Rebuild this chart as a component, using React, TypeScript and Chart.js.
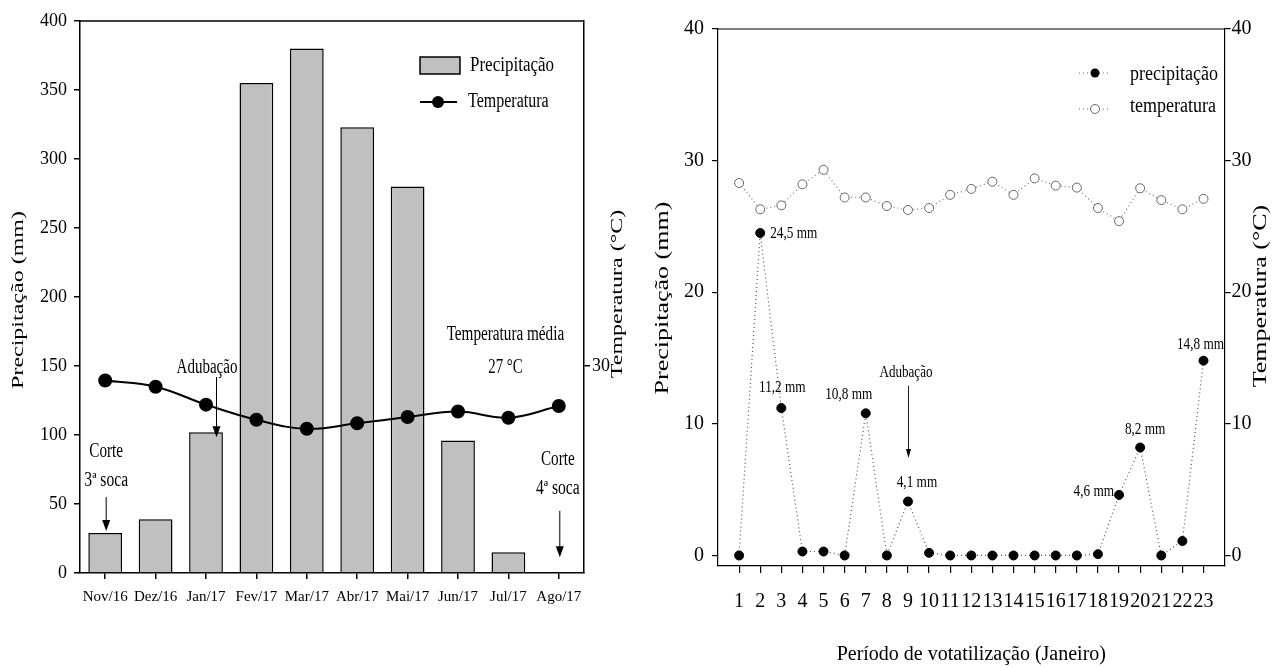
import React, { useEffect, useRef } from "react";
import { Chart, registerables } from "chart.js";

Chart.register(...registerables);

const FONT = "'Liberation Serif', 'Times New Roman', Times, serif";

// ---------- Left chart: monthly data ----------
const months = ["Nov/16", "Dez/16", "Jan/17", "Fev/17", "Mar/17", "Abr/17", "Mai/17", "Jun/17", "Jul/17", "Ago/17"];
const monthlyPrecipitation = [29, 39, 102, 355, 380, 323, 280, 96, 15, 0];
const monthlyTemperature = [27.9, 27.0, 24.4, 22.2, 20.9, 21.7, 22.6, 23.4, 22.5, 24.2];
const precipitationTicks = [0, 50, 100, 150, 200, 250, 300, 350, 400];
const monthlyTemperatureTicks = [30];

// ---------- Right chart: daily data (January) ----------
const days = [1, 2, 3, 4, 5, 6, 7, 8, 9, 10, 11, 12, 13, 14, 15, 16, 17, 18, 19, 20, 21, 22, 23];
const dailyPrecipitation = [0, 24.5, 11.2, 0.3, 0.3, 0, 10.8, 0, 4.1, 0.2, 0, 0, 0, 0, 0, 0, 0, 0.1, 4.6, 8.2, 0, 1.1, 14.8];
const dailyTemperature = [28.3, 26.3, 26.6, 28.2, 29.3, 27.2, 27.2, 26.55, 26.25, 26.4, 27.4, 27.85, 28.4, 27.4, 28.65, 28.1, 27.95, 26.4, 25.4, 27.9, 27.0, 26.3, 27.1];
const dailyAxisTicks = [0, 10, 20, 30, 40];
const rainfallLabelDays = [2, 3, 7, 9, 19, 20, 23];
const rainfallLabelTexts = ["24,5 mm", "11,2 mm", "10,8 mm", "4,1 mm", "4,6 mm", "8,2 mm", "14,8 mm"];
const fertilizationDay = 9;

// label placement (style only): [dx, dy, align]
const RAIN_LABEL_LAYOUT: [number, number, CanvasTextAlign][] = [
  [10, 1, "left"],
  [1, -21, "center"],
  [-17, -19, "center"],
  [9, -19, "center"],
  [-5, -3, "right"],
  [5, -18, "center"],
  [-3, -16, "center"],
];

function txt(ctx: CanvasRenderingContext2D, text: string, x: number, y: number, size: number, sx: number, align: CanvasTextAlign = "center") {
  ctx.save();
  ctx.font = `${size}px ${FONT}`;
  ctx.fillStyle = "#000";
  ctx.textAlign = align;
  ctx.textBaseline = "middle";
  ctx.translate(x, y);
  ctx.scale(sx, 1);
  ctx.fillText(text, 0, 0);
  ctx.restore();
}

function vtxt(ctx: CanvasRenderingContext2D, text: string, x: number, y: number, size: number, sy: number) {
  ctx.save();
  ctx.font = `${size}px ${FONT}`;
  ctx.fillStyle = "#000";
  ctx.textAlign = "center";
  ctx.textBaseline = "middle";
  ctx.translate(x, y);
  ctx.rotate(-Math.PI / 2);
  ctx.scale(1, sy);
  ctx.fillText(text, 0, 0);
  ctx.restore();
}

function arrow(ctx: CanvasRenderingContext2D, x: number, y1: number, y2: number, headW: number, headH: number, lw: number) {
  ctx.save();
  ctx.strokeStyle = "#000";
  ctx.fillStyle = "#000";
  ctx.lineWidth = lw;
  ctx.beginPath();
  ctx.moveTo(x, y1);
  ctx.lineTo(x, y2 - headH + 1);
  ctx.stroke();
  ctx.beginPath();
  ctx.moveTo(x - headW / 2, y2 - headH);
  ctx.lineTo(x + headW / 2, y2 - headH);
  ctx.lineTo(x, y2);
  ctx.closePath();
  ctx.fill();
  ctx.restore();
}

function topFrame(chart: any, lw: number) {
  const { ctx, chartArea } = chart;
  ctx.save();
  ctx.strokeStyle = "#000";
  ctx.lineWidth = lw;
  ctx.beginPath();
  ctx.moveTo(chartArea.left, chartArea.top);
  ctx.lineTo(chartArea.right, chartArea.top);
  ctx.stroke();
  ctx.restore();
}

const leftDecor = {
  id: "leftDecor",
  afterDraw(chart: any) {
    const { ctx, scales } = chart;
    const xs = scales.x;
    const ys = scales.y;
    topFrame(chart, 1.5);
    vtxt(ctx, "Precipitação (mm)", 18.5, 300, 24, 0.7);
    vtxt(ctx, "Temperatura (°C)", 617.5, 294, 24, 0.7);

    // legend
    ctx.save();
    ctx.fillStyle = "#c0c0c0";
    ctx.strokeStyle = "#000";
    ctx.lineWidth = 1.5;
    ctx.fillRect(420, 57, 40, 17);
    ctx.strokeRect(420, 57, 40, 17);
    ctx.lineWidth = 2;
    ctx.beginPath();
    ctx.moveTo(420, 102);
    ctx.lineTo(457, 102);
    ctx.stroke();
    ctx.fillStyle = "#000";
    ctx.beginPath();
    ctx.arc(438, 102, 6, 0, Math.PI * 2);
    ctx.fill();
    ctx.restore();
    txt(ctx, "Precipitação", 470, 66, 20, 0.85, "left");
    txt(ctx, "Temperatura", 468, 102, 20, 0.8, "left");

    // annotations
    const xNov = xs.getPixelForValue(0);
    txt(ctx, "Corte", xNov + 1, ys.getPixelForValue(88), 20, 0.76);
    txt(ctx, "3ª soca", xNov + 1, ys.getPixelForValue(66.5), 20, 0.78);
    arrow(ctx, xNov + 1, ys.getPixelForValue(55), ys.getPixelForValue(monthlyPrecipitation[0]) - 2, 8, 11, 1);

    const xJan = xs.getPixelForValue(2);
    txt(ctx, "Adubação", xJan + 1, ys.getPixelForValue(148.5), 20, 0.75);
    arrow(ctx, xJan + 10.5, ys.getPixelForValue(142), ys.getPixelForValue(monthlyPrecipitation[2]) + 5, 8, 11, 1);

    const xJul = xs.getPixelForValue(8);
    txt(ctx, "Temperatura média", xJul - 3, ys.getPixelForValue(173), 20, 0.76);
    txt(ctx, "27 °C", xJul - 3, ys.getPixelForValue(149), 20, 0.74);

    const xAgo = xs.getPixelForValue(9);
    txt(ctx, "Corte", xAgo - 1, ys.getPixelForValue(82), 20, 0.76);
    txt(ctx, "4ª soca", xAgo - 1, ys.getPixelForValue(61), 20, 0.78);
    arrow(ctx, xAgo + 1, ys.getPixelForValue(45), ys.getPixelForValue(11.5), 8, 11, 1);
  },
};

const rightDecor = {
  id: "rightDecor",
  afterDraw(chart: any) {
    const { ctx, scales } = chart;
    const xs = scales.x;
    const ys = scales.y;
    topFrame(chart, 1.2);
    vtxt(ctx, "Precipitação (mm)", 23, 298, 26, 0.7);
    vtxt(ctx, "Temperatura (°C)", 621.5, 296, 26, 0.7);

    // legend
    ctx.save();
    ctx.strokeStyle = "#666";
    ctx.lineWidth = 1.2;
    ctx.setLineDash([1, 3]);
    ctx.beginPath();
    ctx.moveTo(439, 73);
    ctx.lineTo(471, 73);
    ctx.moveTo(439, 109);
    ctx.lineTo(471, 109);
    ctx.stroke();
    ctx.setLineDash([]);
    ctx.fillStyle = "#000";
    ctx.beginPath();
    ctx.arc(455, 73, 4.5, 0, Math.PI * 2);
    ctx.fill();
    ctx.fillStyle = "#fff";
    ctx.strokeStyle = "#666";
    ctx.lineWidth = 1;
    ctx.beginPath();
    ctx.arc(455, 109, 4.5, 0, Math.PI * 2);
    ctx.fill();
    ctx.stroke();
    ctx.restore();
    txt(ctx, "precipitação", 490, 75, 20, 0.9, "left");
    txt(ctx, "temperatura", 490, 107, 20, 0.9, "left");

    // rainfall labels
    rainfallLabelDays.forEach((d, i) => {
      const [dx, dy, align] = RAIN_LABEL_LAYOUT[i];
      const px = xs.getPixelForValue(d);
      const py = ys.getPixelForValue(dailyPrecipitation[d - 1]);
      txt(ctx, rainfallLabelTexts[i], px + dx, py + dy, 17, 0.78, align);
    });

    // fertilization
    const xf = xs.getPixelForValue(fertilizationDay);
    txt(ctx, "Adubação", xf - 2, ys.getPixelForValue(13.9), 17, 0.77);
    arrow(ctx, xf + 0.5, ys.getPixelForValue(12.9), ys.getPixelForValue(7.4), 5, 9, 0.9);
  },
};

const axisGrid = (tickLength: number, lw: number) => ({
  display: true,
  drawOnChartArea: false,
  drawTicks: true,
  tickLength,
  color: "#000",
  lineWidth: lw,
});

export default function App() {
  const leftRef = useRef<HTMLCanvasElement | null>(null);
  const rightRef = useRef<HTMLCanvasElement | null>(null);

  useEffect(() => {
    Chart.defaults.color = "#000";
    Chart.defaults.font.family = FONT;

    const left = new Chart(leftRef.current as HTMLCanvasElement, {
      type: "bar",
      data: {
        labels: months,
        datasets: [
          {
            type: "line",
            label: "Temperatura",
            data: monthlyTemperature,
            yAxisID: "yT",
            borderColor: "#000",
            borderWidth: 2,
            pointRadius: 6,
            pointBackgroundColor: "#000",
            pointBorderColor: "#000",
            tension: 0.4,
            order: 0,
          } as any,
          {
            type: "bar",
            label: "Precipitação",
            data: monthlyPrecipitation,
            yAxisID: "y",
            backgroundColor: "#c0c0c0",
            borderColor: "#000",
            borderWidth: 1.5,
            barPercentage: 0.67,
            categoryPercentage: 1,
            order: 1,
          },
        ],
      },
      options: {
        responsive: false,
        animation: false,
        layout: { padding: { top: 21, left: 0, right: 0, bottom: 0 } },
        plugins: { legend: { display: false }, tooltip: { enabled: false } },
        scales: {
          x: {
            type: "category",
            offset: true,
            grid: { ...axisGrid(6, 1.5), offset: false },
            border: { display: true, color: "#000", width: 1.5 },
            ticks: { color: "#000", font: { family: FONT, size: 15 }, padding: 9, maxRotation: 0, autoSkip: false },
            afterFit: (s: any) => { s.height = 95; },
          },
          y: {
            position: "left",
            min: 0,
            max: 400,
            afterBuildTicks: (s: any) => { s.ticks = precipitationTicks.map((v) => ({ value: v })); },
            grid: axisGrid(6, 1.5),
            border: { display: true, color: "#000", width: 1.5 },
            ticks: { color: "#000", font: { family: FONT, size: 18 }, padding: 7 },
            afterFit: (s: any) => { s.width = 80; },
          },
          yT: {
            position: "right",
            min: 0,
            max: 80,
            afterBuildTicks: (s: any) => { s.ticks = monthlyTemperatureTicks.map((v) => ({ value: v })); },
            grid: axisGrid(6, 1.5),
            border: { display: true, color: "#000", width: 1.5 },
            ticks: { color: "#000", font: { family: FONT, size: 18 }, padding: 2 },
            afterFit: (s: any) => { s.width = 56; },
          },
        } as any,
      },
      plugins: [leftDecor],
    });

    const right = new Chart(rightRef.current as HTMLCanvasElement, {
      type: "line",
      data: {
        datasets: [
          {
            label: "precipitação",
            data: days.map((d, i) => ({ x: d, y: dailyPrecipitation[i] })),
            yAxisID: "y",
            borderColor: "#555",
            borderWidth: 1.2,
            borderDash: [1, 3],
            pointRadius: 4.5,
            pointBackgroundColor: "#000",
            pointBorderColor: "#000",
            pointBorderWidth: 1,
            tension: 0,
          },
          {
            label: "temperatura",
            data: days.map((d, i) => ({ x: d, y: dailyTemperature[i] })),
            yAxisID: "y2",
            borderColor: "#777",
            borderWidth: 1.2,
            borderDash: [1, 3],
            pointRadius: 4.5,
            pointBackgroundColor: "#fff",
            pointBorderColor: "#666",
            pointBorderWidth: 1,
            tension: 0,
          },
        ],
      },
      options: {
        responsive: false,
        animation: false,
        layout: { padding: { top: 29, left: 0, right: 0, bottom: 0 } },
        plugins: { legend: { display: false }, tooltip: { enabled: false } },
        scales: {
          x: {
            type: "linear",
            min: 0,
            max: 24,
            afterBuildTicks: (s: any) => { s.ticks = days.map((v) => ({ value: v })); },
            grid: axisGrid(7, 1.2),
            border: { display: true, color: "#000", width: 1.2 },
            ticks: { color: "#000", font: { family: FONT, size: 20 }, padding: 17, maxRotation: 0, autoSkip: false },
            title: {
              display: true,
              text: "Período de votatilização (Janeiro)",
              color: "#000",
              font: { family: FONT, size: 20 },
              padding: { top: 0, bottom: 1 },
            },
            afterFit: (s: any) => { s.height = 102; },
          },
          y: {
            position: "left",
            min: -0.8,
            max: 40,
            afterBuildTicks: (s: any) => { s.ticks = dailyAxisTicks.map((v) => ({ value: v })); },
            grid: axisGrid(6, 1.2),
            border: { display: true, color: "#000", width: 1.2 },
            ticks: { color: "#000", font: { family: FONT, size: 20 }, padding: 8 },
            afterFit: (s: any) => { s.width = 78; },
          },
          y2: {
            position: "right",
            min: -0.8,
            max: 40,
            afterBuildTicks: (s: any) => { s.ticks = dailyAxisTicks.map((v) => ({ value: v })); },
            grid: axisGrid(6, 1.2),
            border: { display: true, color: "#000", width: 1.2 },
            ticks: { color: "#000", font: { family: FONT, size: 20 }, padding: 1 },
            afterFit: (s: any) => { s.width = 56.4; },
          },
        } as any,
      },
      plugins: [rightDecor],
    });

    return () => {
      left.destroy();
      right.destroy();
    };
  }, []);

  return (
    <div style={{ position: "absolute", left: 0, top: 0, width: 1281, height: 668, background: "#fff", overflow: "hidden" }}>
      <canvas ref={leftRef} width={640} height={668} style={{ position: "absolute", left: 0, top: 0, width: 640, height: 668 }} />
      <canvas ref={rightRef} width={641} height={668} style={{ position: "absolute", left: 640, top: 0, width: 641, height: 668 }} />
    </div>
  );
}
